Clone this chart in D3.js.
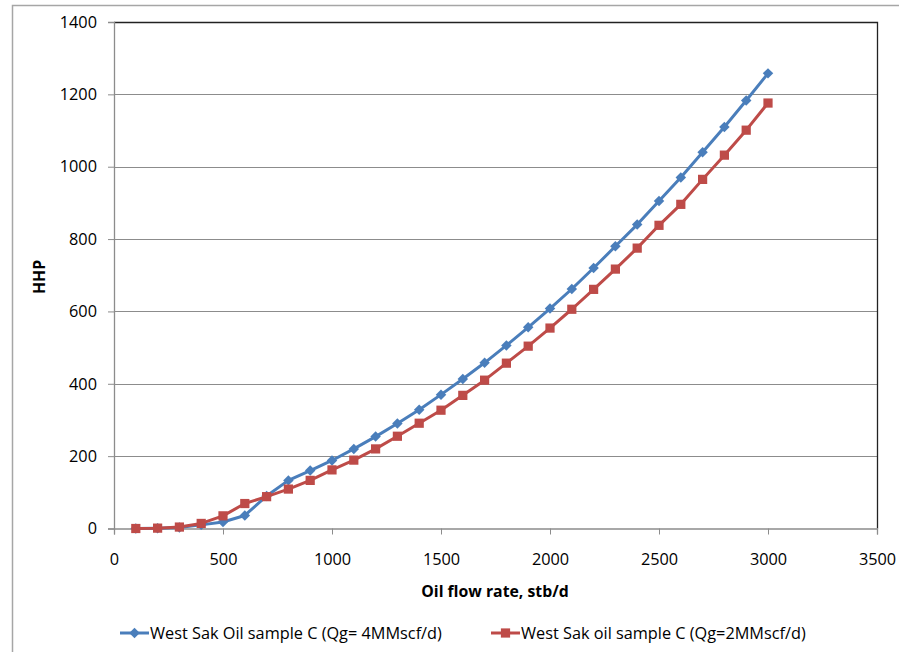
<!DOCTYPE html>
<html>
<head>
<meta charset="utf-8">
<script src="https://cdn.jsdelivr.net/npm/d3@7"></script>
<style>
  html, body { margin: 0; padding: 0; background: #fff; }
  svg { display: block; }
  text { font-family: "Open Sans", "Liberation Sans", Arial, sans-serif; fill: #000; }
</style>
</head>
<body>
<svg id="chart" width="899" height="652"></svg>
<script>
// Oil flow rate (stb/d) for each computed point
const flowRates = [100, 200, 300, 400, 500, 600, 700, 800, 900, 1000,
                   1100, 1200, 1300, 1400, 1500, 1600, 1700, 1800, 1900, 2000,
                   2100, 2200, 2300, 2400, 2500, 2600, 2700, 2800, 2900, 3000];

// Hydraulic horsepower, gas rate 4 MMscf/d
const hhpGas4 = [0, 1, 3, 10, 18, 36, 90, 133, 160, 188,
                 220, 254, 290, 328, 370, 413, 458, 506, 556, 608,
                 662, 720, 780, 840, 905, 970, 1040, 1110, 1183, 1258];

// Hydraulic horsepower, gas rate 2 MMscf/d
const hhpGas2 = [0, 1, 4, 14, 35, 69, 88, 109, 133, 162,
                 189, 220, 255, 291, 327, 368, 410, 457, 504, 554,
                 606, 661, 717, 775, 838, 896, 965, 1032, 1101, 1176];

const xTicks = [0, 500, 1000, 1500, 2000, 2500, 3000, 3500];
const yTicks = [0, 200, 400, 600, 800, 1000, 1200, 1400];

const seriesNames = [
  "West Sak Oil sample C (Qg= 4MMscf/d)",
  "West Sak oil sample C (Qg=2MMscf/d)"
];
const seriesColors = ["#4a7ebb", "#be4b48"];

const svg = d3.select("#chart");
const plot = { left: 114, right: 877, top: 22, bottom: 528.5 };
const fontSize = 16.3;

const x = d3.scaleLinear().domain([0, 3500]).range([plot.left, plot.right]);
const y = d3.scaleLinear().domain([0, 1400]).range([plot.bottom, plot.top]);

// Outer chart frame
svg.append("rect")
  .attr("x", 12.5).attr("y", 5.5)
  .attr("width", 900).attr("height", 660)
  .attr("fill", "none").attr("stroke", "#a6a6a6").attr("stroke-width", 1.5);

// Horizontal gridlines
svg.append("g")
  .selectAll("line")
  .data(yTicks.filter(d => d > 0))
  .join("line")
  .attr("x1", plot.left).attr("x2", plot.right)
  .attr("y1", d => Math.round(y(d)) + 0.5).attr("y2", d => Math.round(y(d)) + 0.5)
  .attr("stroke", "#8c8c8c").attr("stroke-width", 1);

// Plot-area border on top and right
svg.append("path")
  .attr("d", `M${plot.left},${plot.top + 0.5}H${plot.right + 0.5}V${plot.bottom}`)
  .attr("fill", "none").attr("stroke", "#222").attr("stroke-width", 1.3);

// Axes
const fmt = d3.format("d");
const xAxis = d3.axisBottom(x).tickValues(xTicks).tickFormat(fmt).tickSize(6).tickPadding(19);
const yAxis = d3.axisLeft(y).tickValues(yTicks).tickFormat(fmt).tickSize(6).tickPadding(11);

const gx = svg.append("g")
  .attr("transform", `translate(0,${plot.bottom})`)
  .call(xAxis);
const gy = svg.append("g")
  .attr("transform", `translate(${plot.left},0)`)
  .call(yAxis);

[gx, gy].forEach(g => {
  g.select(".domain").attr("stroke", "#8c8c8c").attr("stroke-width", 1.3);
  g.selectAll(".tick line").attr("stroke", "#8c8c8c");
  g.selectAll(".tick text")
    .attr("font-family", "Open Sans, Liberation Sans, Arial, sans-serif")
    .attr("font-size", fontSize).attr("fill", "#000");
});

// Axis titles
svg.append("text")
  .attr("x", 495).attr("y", 597)
  .attr("text-anchor", "middle")
  .attr("font-size", 15.8).attr("font-weight", "bold")
  .text("Oil flow rate, stb/d");

svg.append("text")
  .attr("transform", "translate(45,277) rotate(-90)")
  .attr("text-anchor", "middle")
  .attr("font-size", 15.8).attr("font-weight", "bold")
  .text("HHP");

// Series lines and markers
const series = [hhpGas4, hhpGas2].map((vals, i) => ({
  name: seriesNames[i],
  color: seriesColors[i],
  points: flowRates.map((q, j) => ({ q, v: vals[j] }))
}));

const line = d3.line().x(d => x(d.q)).y(d => y(d.v));

const diamond = d3.symbol().type(d3.symbolDiamond2).size(70);
const square = d3.symbol().type(d3.symbolSquare).size(85);
const markerPaths = [diamond(), square()];

series.forEach((s, i) => {
  const g = svg.append("g");
  g.append("path")
    .attr("d", line(s.points))
    .attr("fill", "none").attr("stroke", s.color)
    .attr("stroke-width", 3).attr("stroke-linejoin", "round");
  g.selectAll("path.marker")
    .data(s.points)
    .join("path")
    .attr("class", "marker")
    .attr("d", markerPaths[i])
    .attr("transform", d => `translate(${x(d.q)},${y(d.v)})`)
    .attr("fill", s.color);
});

// Legend
const legendItems = [
  { x0: 120, y0: 633 },
  { x0: 491, y0: 633 }
];
series.forEach((s, i) => {
  const L = legendItems[i];
  const g = svg.append("g").attr("transform", `translate(${L.x0},${L.y0})`);
  g.append("line")
    .attr("x1", 0).attr("x2", 29).attr("y1", 0).attr("y2", 0)
    .attr("stroke", s.color).attr("stroke-width", 3);
  g.append("path")
    .attr("d", markerPaths[i])
    .attr("transform", "translate(14.5,0)")
    .attr("fill", s.color);
  g.append("text")
    .attr("x", 30).attr("y", 0).attr("dy", "0.35em")
    .attr("font-size", fontSize)
    .text(s.name);
});
</script>
</body>
</html>
